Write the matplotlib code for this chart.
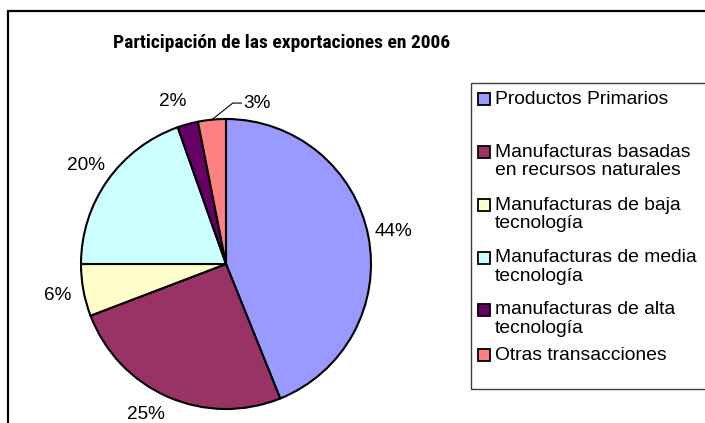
"""
Pie chart: participación de las exportaciones en 2006 (estilo Excel 2003).
"""

import matplotlib

matplotlib.use("Agg")
import matplotlib.pyplot as plt
import numpy as np
from matplotlib.patches import Rectangle

plt.rcParams["font.family"] = ["Liberation Sans", "DejaVu Sans"]

W, H = 705, 423

categories = [
    "Productos Primarios",
    "Manufacturas basadas\nen recursos naturales",
    "Manufacturas de baja\ntecnología",
    "Manufacturas de media\ntecnología",
    "manufacturas de alta\ntecnología",
    "Otras transacciones",
]
shares = [43.9, 25.3, 5.8, 19.6, 2.3, 3.1]
pct_labels = ["44%", "25%", "6%", "20%", "2%", "3%"]
colors = ["#9999FF", "#993366", "#FFFFCC", "#CCFFFF", "#660066", "#FF8080"]


def fx(x):
    return x / W


def fy(y):
    return 1 - y / H


fig = plt.figure(figsize=(W / 100, H / 100), dpi=100)

# marco exterior (recortado por la derecha y abajo, como en la captura)
fig.patches.append(Rectangle((fx(8), fy(440)), fx(720) - fx(8), fy(11) - fy(440),
                             transform=fig.transFigure, fill=False,
                             edgecolor="black", linewidth=1.6))

# título en letra estrecha negrita
fig.text(fx(282), fy(43), "Participación de las exportaciones en 2006",
         ha="center", va="center", fontweight="bold", fontsize=14,
         family=["Roboto Condensed", "Asap Condensed", "Liberation Sans"])

# pie: centro (226, 264) px, radio 145 px
cx, cy, r = 226, 264, 145
ax = fig.add_axes([fx(cx - r), fy(cy + r), fx(2 * r), (2 * r) / H])
wedges, _ = ax.pie(shares, colors=colors, startangle=90, counterclock=False,
                   radius=1.0, wedgeprops=dict(edgecolor="black", linewidth=1.5))
ax.set_xlim(-1, 1)
ax.set_ylim(-1, 1)
ax.set_aspect("equal")
ax.axis("off")

nudge = {"25%": -4.5, "2%": 3.0}
for w, lab in zip(wedges, pct_labels):
    mid = np.deg2rad((w.theta1 + w.theta2) / 2)
    if lab == "3%":
        # etiqueta desplazada con línea guía
        x0, y0 = np.cos(mid), np.sin(mid)
        tx, ty = 0.117, 1.11
        ax.plot([x0, tx - 0.07, tx - 0.01], [y0, ty, ty], color="black",
                linewidth=0.8, clip_on=False)
        ax.text(tx, ty, lab, ha="left", va="center", fontsize=13.7, clip_on=False)
        continue
    a = mid + np.deg2rad(nudge.get(lab, 0.0))
    ax.text(1.18 * np.cos(a), 1.18 * np.sin(a), lab, ha="center", va="center",
            fontsize=13.7, clip_on=False)

# leyenda dibujada a mano (caja recortada por la derecha)
fig.patches.append(Rectangle((fx(471), fy(389)), fx(720) - fx(471), fy(83) - fy(389),
                             transform=fig.transFigure, fill=False,
                             edgecolor="#404040", linewidth=1.0))
row_y = [99, 152, 205, 258, 310, 355]
for lab, c, y in zip(categories, colors, row_y):
    fig.patches.append(Rectangle((fx(478), fy(y + 6)), 12 / W, 12 / H,
                                 transform=fig.transFigure, facecolor=c,
                                 edgecolor="black", linewidth=1.3))
    for i, line in enumerate(lab.split("\n")):
        fig.text(fx(495), fy(y + i * 18.5), line, ha="left", va="center",
                 fontsize=13.9)

fig.savefig("out.png", dpi=100)
